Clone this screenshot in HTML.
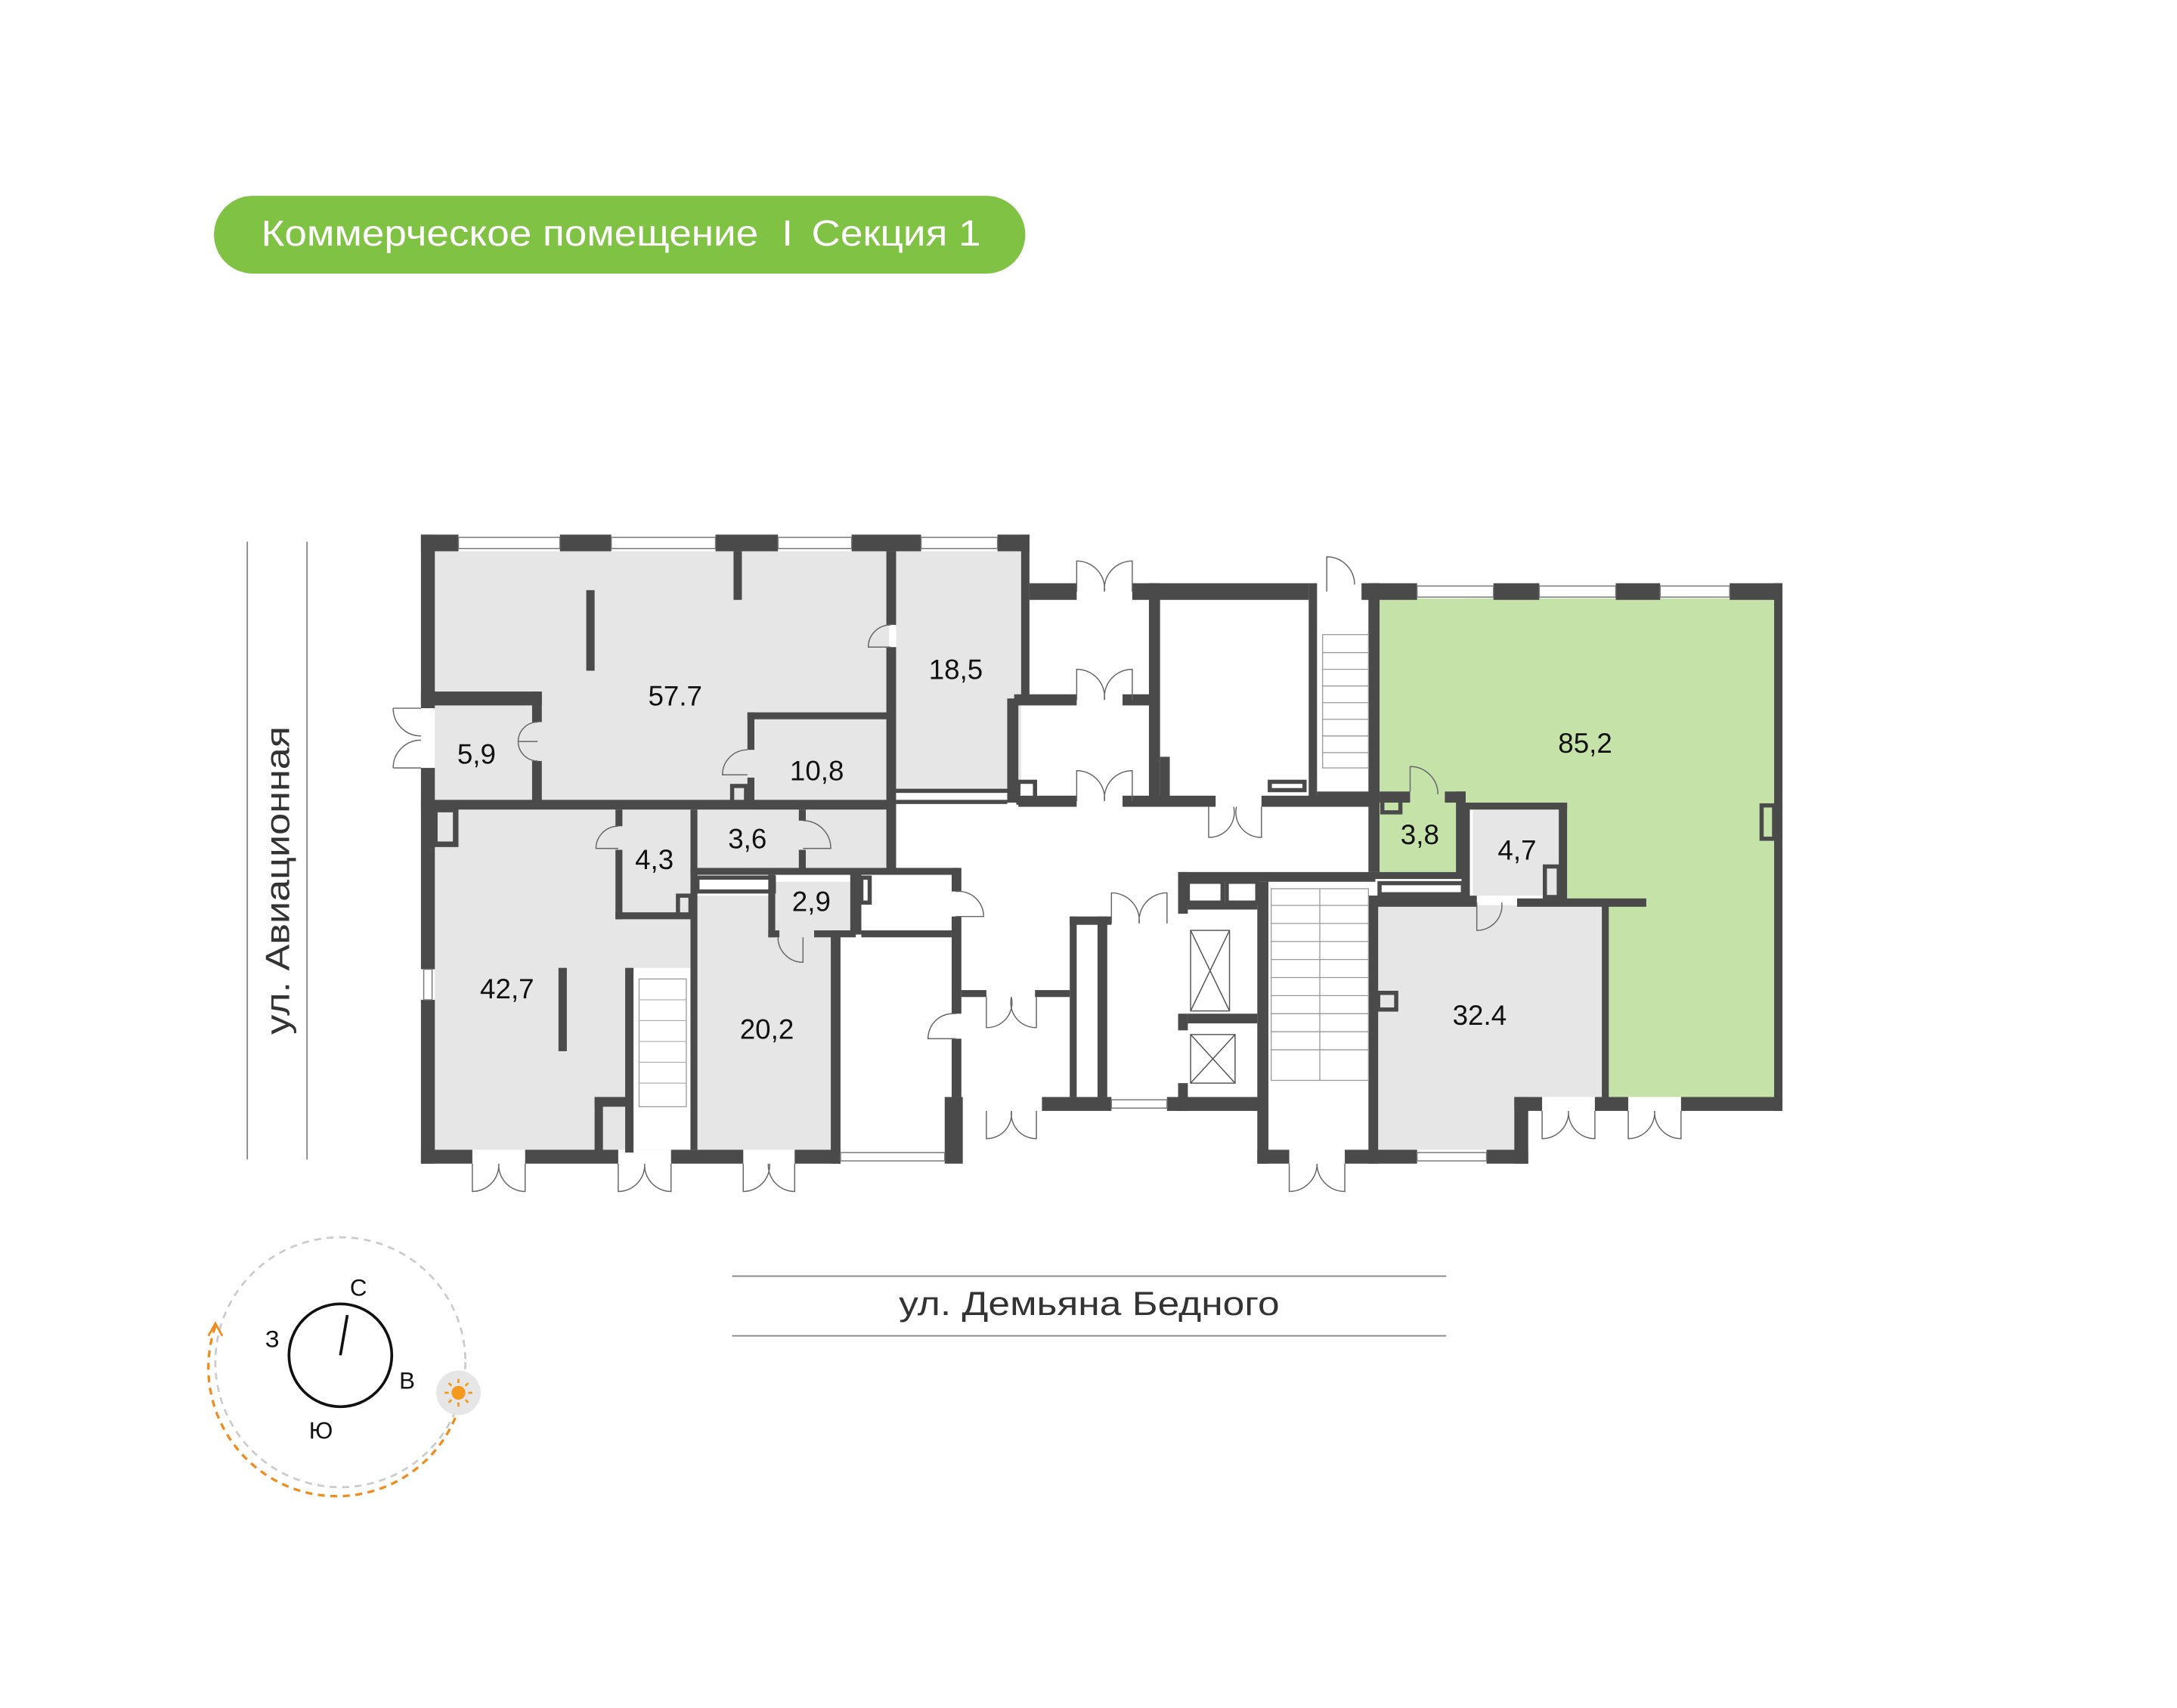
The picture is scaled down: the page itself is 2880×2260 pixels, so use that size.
<!DOCTYPE html>
<html><head><meta charset="utf-8"><style>
html,body{margin:0;padding:0;background:#fff;}
svg{display:block}
text{font-family:"Liberation Sans",sans-serif;}
</style></head><body>
<svg width="2880" height="2260" viewBox="0 0 1567 1230" preserveAspectRatio="none" xmlns="http://www.w3.org/2000/svg">
<rect width="1567" height="1230" fill="#fff"/>
<!-- header -->
<rect x="154" y="141" width="584" height="56" rx="28" fill="#80c244"/>
<text x="188" y="177" font-size="26" fill="#fff" textLength="518" lengthAdjust="spacingAndGlyphs">Коммерческое помещение  <tspan dx="8">I</tspan><tspan dx="12">Секция 1</tspan></text>

<!-- streets -->
<line x1="178" y1="390" x2="178" y2="835" stroke="#888" stroke-width="1"/>
<line x1="221" y1="390" x2="221" y2="835" stroke="#888" stroke-width="1"/>
<text transform="translate(208,745) rotate(-90)" font-size="24" fill="#333" textLength="222" lengthAdjust="spacingAndGlyphs">ул. Авиационная</text>
<line x1="527" y1="919" x2="1041" y2="919" stroke="#888" stroke-width="1"/>
<line x1="527" y1="962" x2="1041" y2="962" stroke="#888" stroke-width="1"/>
<text x="647" y="947" font-size="24" fill="#333" textLength="274" lengthAdjust="spacingAndGlyphs">ул. Демьяна Бедного</text>

<!-- compass -->
<circle cx="245" cy="981" r="90" fill="none" stroke="#ccc" stroke-width="1.5" stroke-dasharray="5,4"/>
<path d="M 155 955 A 90 90 0 0 0 330 1015" fill="none" stroke="#f08c1e" stroke-width="1.8" stroke-dasharray="5,4"/>
<path d="M150 962 L155 953 L160 962" fill="none" stroke="#f08c1e" stroke-width="1.5"/>
<circle cx="245" cy="976" r="37" fill="none" stroke="#111" stroke-width="2"/>
<line x1="245" y1="976" x2="250" y2="947" stroke="#111" stroke-width="2"/>
<text x="258" y="933" font-size="17" fill="#111" text-anchor="middle">С</text>
<text x="196" y="970" font-size="17" fill="#111" text-anchor="middle">З</text>
<text x="293" y="1000" font-size="17" fill="#111" text-anchor="middle">В</text>
<text x="231" y="1036" font-size="17" fill="#111" text-anchor="middle">Ю</text>
<circle cx="330" cy="1003" r="16" fill="#e6e6e6"/>
<circle cx="330" cy="1003" r="5" fill="#f39a1e"/>
<g stroke="#f39a1e" stroke-width="1.5"><line x1="330" y1="993" x2="330" y2="996"/><line x1="330" y1="1010" x2="330" y2="1013"/><line x1="320" y1="1003" x2="323" y2="1003"/><line x1="337" y1="1003" x2="340" y2="1003"/><line x1="323" y1="996" x2="325" y2="998"/><line x1="335" y1="1008" x2="337" y2="1010"/><line x1="323" y1="1010" x2="325" y2="1008"/><line x1="335" y1="998" x2="337" y2="996"/></g>

<!-- room fills -->
<g fill="#c5e3a9">
<rect x="993" y="431" width="284" height="147"/>
<rect x="1055" y="431" width="222" height="150"/>
<rect x="1128" y="578" width="149" height="75"/>
<rect x="1155" y="650" width="122" height="140"/>
<rect x="993" y="578" width="59" height="50"/>
</g>
<g fill="#e6e6e6">
<rect x="313" y="397" width="327" height="181"/>
<rect x="645" y="397" width="90" height="171"/>
<rect x="540" y="516" width="100" height="109"/>
<rect x="313" y="583" width="184" height="245"/>
<rect x="502" y="583" width="75" height="42"/>
<rect x="502" y="645" width="96" height="183"/>
<rect x="557" y="635" width="55" height="40"/>
<rect x="1060" y="583" width="62" height="62"/>
<polygon points="990,652 1153,652 1153,790 1100,790 1100,828 990,828"/>
</g>
<rect x="455" y="697" width="42" height="131" fill="#fff"/>
<rect x="460" y="705" width="34" height="92" fill="#fff" stroke="#999" stroke-width="0.7"/>
<g stroke="#aaa" stroke-width="0.6">
<line x1="460" y1="720" x2="494" y2="720"/><line x1="460" y1="735" x2="494" y2="735"/><line x1="460" y1="750" x2="494" y2="750"/><line x1="460" y1="765" x2="494" y2="765"/><line x1="460" y1="780" x2="494" y2="780"/>
</g>

<!-- walls -->
<g fill="#4a4a4a">
<rect x="303" y="385" width="27" height="12"/><rect x="403" y="385" width="37" height="12"/><rect x="515" y="385" width="45" height="12"/><rect x="613" y="385" width="50" height="12"/><rect x="718" y="385" width="23" height="12"/>
<rect x="303" y="385" width="10" height="125"/><rect x="303" y="553" width="10" height="145"/><rect x="303" y="720" width="10" height="118"/>
<rect x="528" y="397" width="6" height="35"/>
<rect x="422" y="425" width="6" height="58"/>
<rect x="402" y="697" width="6" height="60"/>
<rect x="638" y="397" width="7" height="53"/><rect x="638" y="466" width="7" height="162"/>
<rect x="735" y="385" width="6" height="120"/><rect x="725" y="503" width="8" height="75"/>
<rect x="645" y="568" width="80" height="3"/><rect x="645" y="576" width="80" height="3"/>
<rect x="303" y="498" width="87" height="10"/><rect x="383" y="498" width="7" height="22"/><rect x="383" y="548" width="7" height="30"/>
<rect x="303" y="576" width="337" height="7"/>
<rect x="538" y="513" width="102" height="5"/><rect x="538" y="513" width="5" height="27"/><rect x="538" y="560" width="5" height="18"/>
<rect x="527" y="566" width="10" height="12" fill="none" stroke="#4a4a4a" stroke-width="3"/>
<rect x="313" y="583" width="15" height="25" fill="none" stroke="#4a4a4a" stroke-width="4"/>
<rect x="443" y="583" width="5" height="12"/><rect x="443" y="612" width="5" height="50"/><rect x="443" y="657" width="54" height="5"/>
<rect x="488" y="645" width="9" height="15" fill="none" stroke="#4a4a4a" stroke-width="3"/>
<rect x="497" y="583" width="5" height="245"/>
<rect x="497" y="625" width="193" height="5"/><rect x="502" y="632" width="55" height="10" fill="none" stroke="#4a4a4a" stroke-width="3"/>
<rect x="575" y="583" width="5" height="8"/><rect x="575" y="612" width="5" height="15"/>
<rect x="553" y="630" width="5" height="45"/><rect x="612" y="628" width="8" height="45"/><rect x="620" y="632" width="6" height="18" fill="none" stroke="#4a4a4a" stroke-width="3"/>
<rect x="553" y="670" width="8" height="5"/><rect x="586" y="670" width="30" height="5"/>
<rect x="598" y="670" width="7" height="168"/>
<rect x="685" y="625" width="7" height="17"/><rect x="685" y="660" width="7" height="70"/><rect x="685" y="748" width="7" height="42"/>
<rect x="620" y="670" width="65" height="5"/>
<rect x="428" y="790" width="27" height="7"/><rect x="428" y="790" width="6" height="40"/>
<rect x="450" y="697" width="6" height="133"/>
<rect x="303" y="828" width="37" height="10"/><rect x="378" y="828" width="67" height="10"/><rect x="483" y="828" width="52" height="10"/><rect x="572" y="828" width="33" height="10"/><rect x="680" y="790" width="13" height="48"/>
<rect x="741" y="420" width="34" height="12"/><rect x="815" y="420" width="127" height="12"/>
<rect x="827" y="420" width="8" height="160"/><rect x="942" y="420" width="6" height="158"/>
<rect x="730" y="500" width="45" height="8"/><rect x="808" y="500" width="22" height="8"/>
<rect x="733" y="573" width="42" height="8"/><rect x="808" y="573" width="67" height="8"/><rect x="908" y="573" width="85" height="8"/>
<rect x="733" y="563" width="12" height="15" fill="none" stroke="#4a4a4a" stroke-width="3"/>
<rect x="835" y="545" width="7" height="35"/>
<rect x="914" y="563" width="25" height="6" fill="none" stroke="#4a4a4a" stroke-width="3"/>
<rect x="948" y="570" width="40" height="5"/>
<rect x="985" y="420" width="8" height="208"/>
<rect x="980" y="420" width="40" height="12"/><rect x="1075" y="420" width="33" height="12"/><rect x="1163" y="420" width="32" height="12"/><rect x="1245" y="420" width="38" height="12"/>
<rect x="1277" y="420" width="6" height="380"/>
<rect x="1268" y="580" width="9" height="24" fill="none" stroke="#4a4a4a" stroke-width="3"/>
<rect x="993" y="570" width="22" height="8"/><rect x="1040" y="570" width="15" height="8"/><rect x="1048" y="570" width="7" height="60"/>
<rect x="995" y="575" width="13" height="10" fill="none" stroke="#4a4a4a" stroke-width="3"/>
<rect x="1052" y="578" width="76" height="5"/><rect x="1052" y="578" width="6" height="70"/><rect x="1122" y="578" width="6" height="72"/>
<rect x="1112" y="624" width="10" height="22" fill="none" stroke="#4a4a4a" stroke-width="3"/>
<rect x="990" y="628" width="65" height="5"/><rect x="993" y="636" width="60" height="8" fill="none" stroke="#4a4a4a" stroke-width="3"/>
<rect x="985" y="645" width="78" height="8"/><rect x="1092" y="647" width="93" height="6"/>
<rect x="1153" y="652" width="5" height="140"/>
<rect x="985" y="645" width="7" height="193"/>
<rect x="992" y="715" width="13" height="12" fill="none" stroke="#4a4a4a" stroke-width="3"/>
<rect x="990" y="828" width="30" height="10"/><rect x="1070" y="828" width="30" height="10"/><rect x="1090" y="790" width="10" height="48"/><rect x="1090" y="790" width="20" height="10"/>
<rect x="1148" y="790" width="24" height="10"/><rect x="1210" y="790" width="73" height="10"/>
<rect x="848" y="628" width="142" height="7"/><rect x="848" y="628" width="7" height="30"/><rect x="848" y="730" width="7" height="12"/><rect x="848" y="780" width="7" height="20"/>
<rect x="855" y="635" width="25" height="15" fill="none" stroke="#4a4a4a" stroke-width="3"/><rect x="883" y="635" width="22" height="15" fill="none" stroke="#4a4a4a" stroke-width="3"/>
<rect x="855" y="650" width="50" height="5"/><rect x="855" y="730" width="50" height="7"/>
<rect x="905" y="635" width="8" height="203"/>
<rect x="840" y="790" width="73" height="10"/><rect x="750" y="790" width="50" height="10"/>
<rect x="770" y="660" width="5" height="130"/><rect x="790" y="660" width="7" height="130"/><rect x="770" y="660" width="30" height="6"/>
<rect x="692" y="713" width="18" height="5"/><rect x="745" y="713" width="25" height="5"/>
<rect x="905" y="828" width="23" height="10"/><rect x="968" y="828" width="22" height="10"/>
</g>
<g fill="none" stroke="#555" stroke-width="0.8">
<rect x="857" y="670" width="28" height="58"/><line x1="857" y1="670" x2="885" y2="728"/><line x1="885" y1="670" x2="857" y2="728"/>
<rect x="857" y="745" width="32" height="35"/><line x1="857" y1="745" x2="889" y2="780"/><line x1="889" y1="745" x2="857" y2="780"/>
</g>
<g stroke="#999" stroke-width="0.7" fill="none">
<rect x="952" y="457" width="33" height="96"/>
<line x1="952" y1="470" x2="985" y2="470"/><line x1="952" y1="482" x2="985" y2="482"/><line x1="952" y1="494" x2="985" y2="494"/><line x1="952" y1="506" x2="985" y2="506"/><line x1="952" y1="518" x2="985" y2="518"/><line x1="952" y1="530" x2="985" y2="530"/><line x1="952" y1="542" x2="985" y2="542"/>
<rect x="915" y="640" width="70" height="138"/>
<line x1="915" y1="652" x2="985" y2="652"/><line x1="915" y1="665" x2="985" y2="665"/><line x1="915" y1="678" x2="985" y2="678"/><line x1="915" y1="691" x2="985" y2="691"/><line x1="915" y1="704" x2="985" y2="704"/><line x1="915" y1="717" x2="985" y2="717"/><line x1="915" y1="730" x2="985" y2="730"/><line x1="915" y1="743" x2="985" y2="743"/><line x1="915" y1="756" x2="985" y2="756"/><line x1="950" y1="640" x2="950" y2="778"/>
</g>
<g fill="none" stroke="#777" stroke-width="0.8">
<rect x="330" y="387" width="73" height="8"/><rect x="440" y="387" width="75" height="8"/><rect x="560" y="387" width="53" height="8"/><rect x="663" y="387" width="55" height="8"/>
<rect x="1020" y="422" width="55" height="8"/><rect x="1108" y="422" width="55" height="8"/><rect x="1195" y="422" width="50" height="8"/>
<rect x="605" y="830" width="75" height="6"/><rect x="800" y="792" width="40" height="6"/><rect x="1020" y="830" width="50" height="6"/><rect x="305" y="698" width="6" height="22"/>
</g>
<g fill="none" stroke="#666" stroke-width="0.8">
<path d="M340 838 v20 a19 19 0 0 0 19 -20 M378 838 v20 a19 19 0 0 1 -19 -20"/>
<path d="M445 838 v20 a19 19 0 0 0 19 -20 M483 838 v20 a19 19 0 0 1 -19 -20"/>
<path d="M535 838 v20 a19 19 0 0 0 19 -20 M572 838 v20 a19 19 0 0 1 -19 -20"/>
<path d="M710 800 v20 a18 18 0 0 0 18 -20 M746 800 v20 a18 18 0 0 1 -18 -20"/>
<path d="M928 838 v20 a20 20 0 0 0 20 -20 M968 838 v20 a20 20 0 0 1 -20 -20"/>
<path d="M1110 800 v20 a19 19 0 0 0 19 -20 M1148 800 v20 a19 19 0 0 1 -19 -20"/>
<path d="M1172 800 v20 a19 19 0 0 0 19 -20 M1210 800 v20 a19 19 0 0 1 -19 -20"/>
<path d="M775 426 v-22 a20 20 0 0 1 20 22 M815 426 v-22 a20 20 0 0 0 -20 22"/>
<path d="M775 504 v-22 a20 20 0 0 1 20 22 M815 504 v-22 a20 20 0 0 0 -20 22"/>
<path d="M775 577 v-22 a20 20 0 0 1 20 22 M815 577 v-22 a20 20 0 0 0 -20 22"/>
<path d="M870 581 v22 a18 18 0 0 0 18 -22 M908 581 v22 a18 18 0 0 1 -18 -22"/>
<path d="M800 665 v-22 a20 20 0 0 1 20 22 M840 665 v-22 a20 20 0 0 0 -20 22"/>
<path d="M710 718 v22 a18 18 0 0 0 18 -22 M746 718 v22 a18 18 0 0 1 -18 -22"/>
<path d="M955 426 v-25 a20 20 0 0 1 20 20"/>
<path d="M283 510 h20 M283 510 a20 20 0 0 0 20 20 M283 553 h20 M283 553 a20 20 0 0 1 20 -20"/>
<path d="M387 520 a14 14 0 0 0 -14 14 h14 M387 548 a14 14 0 0 1 -14 -14"/>
<path d="M641 450 a16 16 0 0 0 -16 16 h16"/>
<path d="M538 540 a18 18 0 0 0 -18 18 h18"/>
<path d="M445 595 a16 16 0 0 0 -16 16 h16"/>
<path d="M578 591 a20 20 0 0 1 20 20 h-20"/>
<path d="M560 675 a18 18 0 0 0 18 18 v-18"/>
<path d="M688 642 a18 18 0 0 1 20 18 h-20"/>
<path d="M688 730 a18 18 0 0 0 -20 18 h20"/>
<path d="M1015 552 a20 20 0 0 1 20 20 M1015 552 v18"/>
<path d="M1063 650 v20 a18 18 0 0 0 18 -20"/>
</g>
<g font-size="20" fill="#111" text-anchor="middle">
<text x="486" y="508">57.7</text><text x="688" y="489">18,5</text><text x="343" y="550">5,9</text><text x="588" y="562">10,8</text>
<text x="471" y="626">4,3</text><text x="538" y="611">3,6</text><text x="584" y="656">2,9</text><text x="365" y="719">42,7</text><text x="552" y="748">20,2</text>
<text x="1141" y="542">85,2</text><text x="1022" y="608">3,8</text><text x="1092" y="619">4,7</text><text x="1065" y="738">32.4</text>
</g>
</svg>
</body></html>
